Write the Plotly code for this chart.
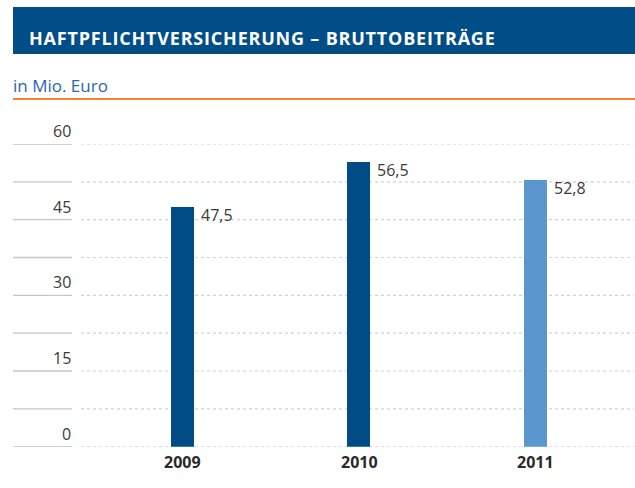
import plotly.graph_objects as go

years = ["2009", "2010", "2011"]
values = [47.5, 56.5, 52.8]
value_labels = ["47,5", "56,5", "52,8"]
bar_colors = ["#004c86", "#004c86", "#5b96cf"]
tick_values = [0, 15, 30, 45, 60]
grid_values = [0, 7.5, 15, 22.5, 30, 37.5, 45, 52.5, 60]
title_text = "HAFTPFLICHTVERSICHERUNG – BRUTTOBEITRÄGE"
unit_text = "in Mio. Euro"

W, H = 635, 488
FONT = "Open Sans"

def px(x):
    return x / W

def py(y):
    return 1 - y / H

fig = go.Figure()
fig.add_trace(go.Bar(
    x=years, y=values, marker=dict(color=bar_colors, line=dict(width=0)),
    width=0.13, hoverinfo="skip",
))

shapes = []
annotations = []

# header band
shapes.append(dict(type="rect", xref="paper", yref="paper", x0=px(13), x1=1.0,
                   y0=py(54), y1=py(7), fillcolor="#004d87", line=dict(width=0), layer="below"))
annotations.append(dict(xref="paper", yref="paper", x=px(27), y=py(38), xanchor="left", yanchor="middle",
                        text='<span style="letter-spacing:0.8px"><b>' + title_text + "</b></span>",
                        showarrow=False,
                        font=dict(family=FONT, size=18, color="white")))
# unit subtitle + orange line
annotations.append(dict(xref="paper", yref="paper", x=px(11), y=py(85), xanchor="left", yanchor="middle",
                        text=unit_text, showarrow=False,
                        font=dict(family=FONT, size=17, color="#2a69a6")))
shapes.append(dict(type="line", xref="paper", yref="paper", x0=px(13), x1=1.0,
                   y0=py(99), y1=py(99), line=dict(color="#f4823c", width=2.2)))

# gridlines
for g in grid_values:
    shapes.append(dict(type="line", xref="paper", yref="y", x0=px(13), x1=px(72), y0=g, y1=g,
                       line=dict(color="#c6c6c6", width=1.3), layer="below"))
    shapes.append(dict(type="line", xref="paper", yref="y", x0=px(81), x1=px(634), y0=g, y1=g,
                       line=dict(color="#d2d2d2", width=1.2, dash="dot"), layer="below"))

# y tick labels
for t in tick_values:
    annotations.append(dict(xref="paper", yref="y", x=px(73), y=t, xanchor="right", yanchor="middle",
                            yshift=13, text=str(t), showarrow=False,
                            font=dict(family=FONT, size=16, color="#3a3a3a")))

# value labels and category labels
for i, (yr, v, lab) in enumerate(zip(years, values, value_labels)):
    annotations.append(dict(xref="x", yref="y", x=i, y=v, xanchor="left", yanchor="top",
                            xshift=16, yshift=5, text=lab, showarrow=False,
                            font=dict(family=FONT, size=16, color="#3a3a3a")))
    annotations.append(dict(xref="x", yref="paper", x=i, y=py(462), xanchor="center", yanchor="middle",
                            text="<b>" + yr + "</b>", showarrow=False,
                            font=dict(family=FONT, size=16, color="#2a2a2a")))

fig.update_layout(
    width=W, height=H, margin=dict(l=0, r=0, t=0, b=0),
    paper_bgcolor="white", plot_bgcolor="rgba(0,0,0,0)",
    showlegend=False, shapes=shapes, annotations=annotations,
    xaxis=dict(domain=[px(94.25), px(623.75)], range=[-0.5, 2.5], type="category",
               showticklabels=False, showgrid=False, zeroline=False, showline=False, fixedrange=True),
    yaxis=dict(domain=[py(446.7), py(144)], range=[0, 60],
               showticklabels=False, showgrid=False, zeroline=False, showline=False, fixedrange=True),
    bargap=0,
)

fig.write_html("out.html", config={"displayModeBar": False},
               post_script="document.body.style.margin='0';document.body.style.overflow='hidden';")
